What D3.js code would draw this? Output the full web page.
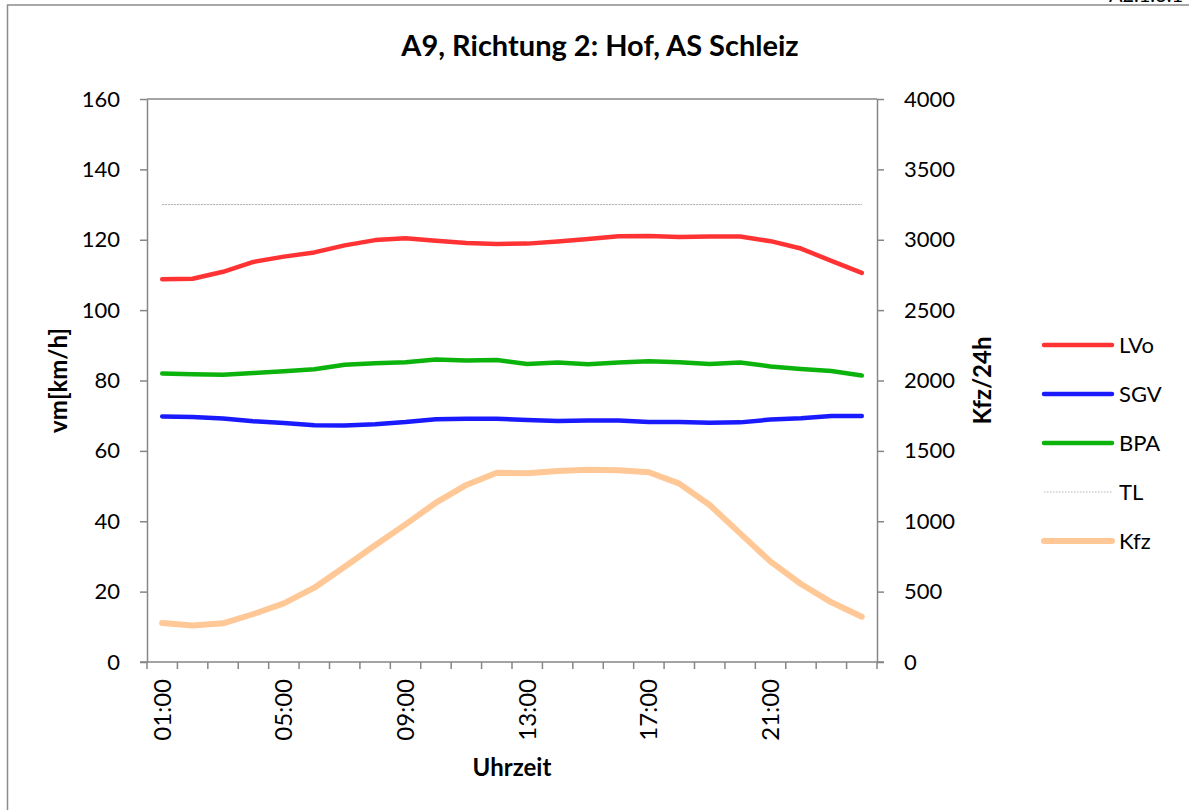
<!DOCTYPE html>
<html>
<head>
<meta charset="utf-8">
<script src="https://cdn.jsdelivr.net/npm/d3@7"></script>
<style>
  html, body { margin: 0; padding: 0; background: #fff; }
  svg { display: block; font-family: Lato, "Open Sans", sans-serif; }
</style>
</head>
<body>
<svg id="chart" width="1189" height="810"></svg>
<script>
// ---- data ----
const hours = ["01:00","02:00","03:00","04:00","05:00","06:00","07:00","08:00","09:00","10:00","11:00","12:00",
               "13:00","14:00","15:00","16:00","17:00","18:00","19:00","20:00","21:00","22:00","23:00","24:00"];
const shownHourLabels = ["01:00","05:00","09:00","13:00","17:00","21:00"];
const lvo = [108.8,108.9,110.9,113.7,115.2,116.4,118.4,119.9,120.4,119.7,119.1,118.8,
             118.9,119.5,120.2,121.0,121.1,120.8,120.9,120.9,119.6,117.5,114.0,110.6];
const sgv = [69.8,69.6,69.2,68.4,67.9,67.3,67.2,67.6,68.2,69.0,69.1,69.1,
             68.8,68.5,68.6,68.6,68.2,68.2,68.0,68.1,68.9,69.3,69.9,69.9];
const bpa = [82.0,81.8,81.6,82.1,82.6,83.2,84.5,84.9,85.2,86.0,85.7,85.8,
             84.7,85.1,84.6,85.1,85.5,85.2,84.7,85.1,84.0,83.3,82.7,81.4];
const tl  = [130,130,130,130,130,130,130,130,130,130,130,130,
             130,130,130,130,130,130,130,130,130,130,130,130];
const kfz = [277,260,275,341,417,528,677,829,978,1132,1258,1345,
             1341,1357,1366,1362,1348,1267,1115,914,713,554,424,322];
const leftTicks = [0,20,40,60,80,100,120,140,160];
const rightTicks = [0,500,1000,1500,2000,2500,3000,3500,4000];
const seriesNames = ["LVo","SGV","BPA","TL","Kfz"];
const titleText = "A9, Richtung 2: Hof, AS Schleiz";

// ---- layout ----
const svg = d3.select("#chart");
const L = 147, R = 877, T = 99, B = 662;
const axisColor = "#868686";

const x = d3.scaleBand().domain(hours).range([L, R]).padding(0);
const xc = d => x(d) + x.bandwidth() / 2;
const y = d3.scaleLinear().domain([0, 160]).range([B, T]);
const y2 = d3.scaleLinear().domain([0, 4000]).range([B, T]);

// outer frame
svg.append("rect").attr("x", 7.5).attr("y", 5).attr("width", 1200).attr("height", 820)
  .attr("fill", "none").attr("stroke", "#8c8c8c").attr("stroke-width", 1.5);
// page header fragment (cut off at top, as in the reference)
svg.append("text").attr("x", 1183).attr("y", 2).attr("text-anchor", "end")
  .attr("font-size", 20).attr("fill", "#000").text("A2.1.6.1");

// title
svg.append("text").attr("x", 600).attr("y", 56).attr("text-anchor", "middle")
  .attr("font-size", 29).attr("font-weight", "bold").text(titleText);

// plot top border
svg.append("line").attr("x1", L).attr("x2", R).attr("y1", T).attr("y2", T)
  .attr("stroke", axisColor).attr("stroke-width", 1.5);

// left axis
const gL = svg.append("g").attr("transform", `translate(${L},0)`)
  .call(d3.axisLeft(y).tickValues(leftTicks).tickSize(7).tickSizeOuter(0).tickPadding(20));
// right axis
const gR = svg.append("g").attr("transform", `translate(${R},0)`)
  .call(d3.axisRight(y2).tickValues(rightTicks).tickFormat(d3.format("d"))
    .tickSize(7).tickSizeOuter(0).tickPadding(20));
[gL, gR].forEach(g => {
  g.select(".domain").attr("stroke", axisColor).attr("stroke-width", 1.5);
  g.selectAll(".tick line").attr("stroke", axisColor).attr("stroke-width", 1.5);
  g.selectAll(".tick text").attr("font-size", 22).attr("fill", "#000")
    .attr("font-family", "Lato, sans-serif");
});

// bottom axis: labels
const gB = svg.append("g").attr("transform", `translate(0,${B})`)
  .call(d3.axisBottom(x).tickValues(shownHourLabels).tickSize(0).tickPadding(0));
gB.select(".domain").attr("stroke", axisColor).attr("stroke-width", 1.5)
  .attr("d", `M${L - 7},0H${R + 7}`);
gB.selectAll(".tick text")
  .attr("font-size", 24).attr("fill", "#000").attr("font-family", "Lato, sans-serif")
  .attr("transform", "rotate(-90)")
  .attr("text-anchor", "end").attr("x", -17).attr("y", 0).attr("dy", "0.35em");
// bottom tick marks between categories
const boundaries = hours.map(h => x(h)).concat([R]);
svg.append("g").selectAll("line").data(boundaries).join("line")
  .attr("x1", d => d).attr("x2", d => d).attr("y1", B).attr("y2", B + 7)
  .attr("stroke", axisColor).attr("stroke-width", 1.5);

// axis titles
svg.append("text").attr("transform", `translate(67,${(T + B) / 2}) rotate(-90)`)
  .attr("text-anchor", "middle").attr("font-size", 24).attr("font-weight", "bold").text("vm[km/h]");
svg.append("text").attr("transform", `translate(991,${(T + B) / 2}) rotate(-90)`)
  .attr("text-anchor", "middle").attr("font-size", 24).attr("font-weight", "bold").text("Kfz/24h");
svg.append("text").attr("x", 512).attr("y", 776).attr("text-anchor", "middle")
  .attr("font-size", 24).attr("font-weight", "bold").text("Uhrzeit");

// series
const styles = {
  LVo: { color: "#ff3333", width: 4.5, dash: null },
  SGV: { color: "#1a1aff", width: 4.5, dash: null },
  BPA: { color: "#0db30d", width: 4.5, dash: null },
  TL:  { color: "#b4b4b4", width: 1, dash: "1.5,1.5" },
  Kfz: { color: "#ffc896", width: 6, dash: null }
};
const seriesData = { LVo: lvo, SGV: sgv, BPA: bpa, TL: tl, Kfz: kfz };
const scaleFor = { LVo: y, SGV: y, BPA: y, TL: y, Kfz: y2 };
const drawOrder = ["TL", "Kfz", "BPA", "SGV", "LVo"];
drawOrder.forEach(name => {
  const s = styles[name], sc = scaleFor[name];
  const line = d3.line().x((d, i) => xc(hours[i])).y(d => sc(d));
  svg.append("path").datum(seriesData[name]).attr("d", line)
    .attr("fill", "none").attr("stroke", s.color).attr("stroke-width", s.width)
    .attr("stroke-linejoin", "round").attr("stroke-linecap", "round")
    .attr("stroke-dasharray", s.dash);
});

// legend
const leg = svg.append("g");
const legY = d3.scalePoint().domain(seriesNames).range([345, 541]);
seriesNames.forEach(name => {
  const s = styles[name];
  leg.append("line").attr("x1", 1044).attr("x2", 1112).attr("y1", legY(name)).attr("y2", legY(name))
    .attr("stroke", s.color).attr("stroke-width", s.width)
    .attr("stroke-linecap", s.dash ? "butt" : "round").attr("stroke-dasharray", s.dash);
  leg.append("text").attr("x", 1119).attr("y", legY(name)).attr("dy", "0.35em")
    .attr("font-size", 22).text(name);
});
</script>
</body>
</html>
